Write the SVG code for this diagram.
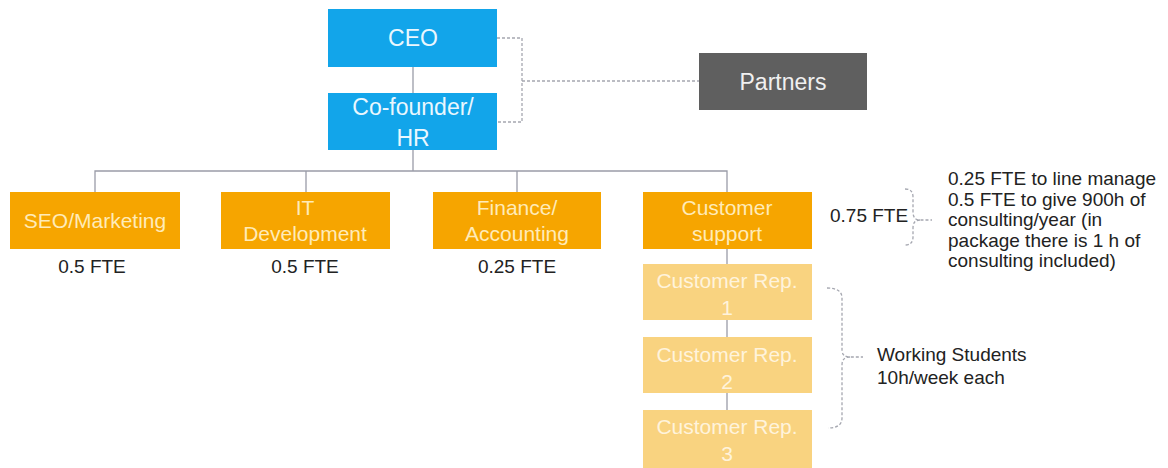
<svg xmlns="http://www.w3.org/2000/svg" width="1168" height="468" viewBox="0 0 1168 468">
<style>
text{font-family:"Liberation Sans",Arial,sans-serif;}
.blue{fill:#12A5EA;}
.org{fill:#F6A500;}
.lt{fill:#F9D380;}
.wt{fill:#EAF7FE;font-size:23px;text-anchor:middle;}
.ot{fill:#FFEBB8;font-size:21px;text-anchor:middle;}
.lt2{fill:#FFF3DC;font-size:21px;text-anchor:middle;}
.lab{fill:#222;font-size:19px;}
.ln{stroke:#9A9CA8;stroke-width:1.3;fill:none;}
.dash{stroke:#A5A7B0;stroke-width:1.3;fill:none;stroke-dasharray:3 2;}
</style>
<rect width="1168" height="468" fill="#fff"/>
<g id="connectors">
<line class="ln" x1="413" y1="67" x2="413" y2="93"/>
<path class="ln" d="M413 150V171M95 192V171H727V192M306 171V192M517 171V192"/>
<path class="ln" d="M727 249V264M727 320V337M727 393V410"/>
<path class="dash" d="M497 38H522V122H497M522 81H699"/>
<path class="dash" d="M905 189Q913 189 913 197V212Q913 220 920 220H932M920 220Q913 220 913 228V237Q913 245 905 245"/>
<path class="dash" d="M827 288Q842 288 842 298V350Q842 357 850 357H863M850 357Q842 357 842 365V418Q842 428 828 428"/>
</g>
<g id="ceo"><rect class="blue" x="328" y="9" width="169" height="58"/><text class="wt" x="413" y="46">CEO</text></g>
<g id="cofounder"><rect class="blue" x="328" y="93" width="169" height="57"/><text class="wt" x="413" y="115">Co-founder/</text><text class="wt" x="413" y="146">HR</text></g>
<g id="partners"><rect fill="#5F5F5F" x="699" y="53" width="168" height="57"/><text class="wt" x="783" y="90" fill="#F0F0F0" style="fill:#F0F0F0">Partners</text></g>
<g id="seo"><rect class="org" x="10" y="192" width="170" height="57"/><text class="ot" x="95" y="228">SEO/Marketing</text><text class="lab" x="92" y="273" text-anchor="middle">0.5 FTE</text></g>
<g id="it"><rect class="org" x="221" y="192" width="169" height="57"/><text class="ot" x="305" y="215">IT</text><text class="ot" x="305" y="241">Development</text><text class="lab" x="305" y="273" text-anchor="middle">0.5 FTE</text></g>
<g id="finance"><rect class="org" x="433" y="192" width="168" height="57"/><text class="ot" x="517" y="215">Finance/</text><text class="ot" x="517" y="241">Accounting</text><text class="lab" x="517" y="273" text-anchor="middle">0.25 FTE</text></g>
<g id="support"><rect class="org" x="643" y="192" width="169" height="57"/><text class="ot" x="727" y="215">Customer</text><text class="ot" x="727" y="241">support</text><text class="lab" x="830" y="222">0.75 FTE</text></g>
<g id="rep1"><rect class="lt" x="643" y="264" width="169" height="56"/><text class="lt2" x="727" y="288">Customer Rep.</text><text class="lt2" x="727" y="315">1</text></g>
<g id="rep2"><rect class="lt" x="643" y="337" width="169" height="56"/><text class="lt2" x="727" y="362">Customer Rep.</text><text class="lt2" x="727" y="389">2</text></g>
<g id="rep3"><rect class="lt" x="643" y="410" width="169" height="58"/><text class="lt2" x="727" y="434">Customer Rep.</text><text class="lt2" x="727" y="461">3</text></g>
<g id="note-support"><text class="lab" x="948" y="185">0.25 FTE to line manage</text><text class="lab" x="948" y="206">0.5 FTE to give 900h of</text><text class="lab" x="948" y="226">consulting/year (in</text><text class="lab" x="948" y="247">package there is 1 h of</text><text class="lab" x="948" y="267">consulting included)</text></g>
<g id="note-students"><text class="lab" x="877" y="361">Working Students</text><text class="lab" x="877" y="384">10h/week each</text></g>
</svg>
